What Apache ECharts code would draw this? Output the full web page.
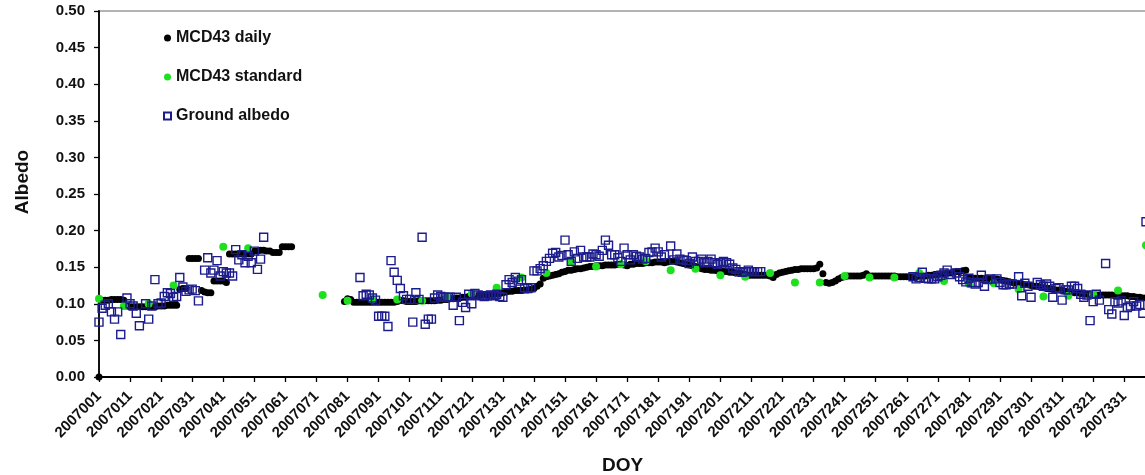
<!DOCTYPE html>
<html>
<head>
<meta charset="utf-8">
<script src="https://cdn.jsdelivr.net/npm/echarts@6/dist/echarts.min.js"></script>
<style>
  html, body { margin: 0; padding: 0; background: #ffffff; }
  #chart { width: 1145px; height: 475px; }
</style>
</head>
<body>
<div id="chart"></div>
<script>
// Day-of-year range shown on the category axis (2007001 ... 2007338)
const year = '2007';
const firstDay = 1;
const lastDay = 338;

// MCD43 daily albedo, one value per day starting at day 1 (null = no retrieval)
const dailyValues = [
  0.000, 0.105, 0.105, 0.105, 0.106, 0.106, 0.106, 0.106, 0.105, 0.097,
  0.096, 0.096, 0.096, 0.096, 0.096, 0.096, 0.096, 0.096, 0.096, 0.097,
  0.097, 0.097, 0.098, 0.098, 0.098, 0.098, 0.120, 0.121, 0.121, 0.162,
  0.162, 0.162, 0.162, 0.118, 0.116, 0.115, 0.115, 0.131, 0.131, 0.131,
  0.131, 0.129, 0.168, 0.168, 0.168, 0.168, 0.168, 0.168, 0.168, 0.168,
  0.172, 0.172, 0.173, 0.173, 0.172, 0.172, 0.170, 0.170, 0.170, 0.178,
  0.178, 0.178, 0.178, null, null, null, null, null, null, null,
  null, null, null, null, null, null, null, null, null, 0.103,
  0.107, 0.106, 0.102, 0.102, 0.102, 0.102, 0.102, 0.102, 0.102, 0.102,
  0.102, 0.102, 0.102, 0.102, 0.102, 0.102, 0.103, 0.105, 0.104, 0.103,
  0.103, 0.103, 0.103, 0.104, 0.104, 0.104, 0.104, 0.104, 0.104, 0.105,
  0.105, 0.106, 0.106, 0.107, 0.107, 0.108, 0.108, 0.109, 0.109, 0.110,
  0.110, 0.111, 0.111, 0.112, 0.112, 0.112, 0.113, 0.113, 0.114, 0.114,
  0.115, 0.116, 0.117, 0.117, 0.118, 0.118, 0.118, 0.119, 0.119, 0.120,
  0.121, 0.124, 0.127, 0.135, 0.137, 0.138, 0.139, 0.140, 0.141, 0.143,
  0.144, 0.146, 0.146, 0.147, 0.148, 0.148, 0.149, 0.150, 0.151, 0.151,
  0.152, 0.152, 0.152, 0.153, 0.153, 0.153, 0.153, 0.154, 0.154, 0.153,
  0.152, 0.154, 0.154, 0.155, 0.155, 0.155, 0.156, 0.156, 0.156, 0.157,
  0.157, 0.157, 0.156, 0.157, 0.158, 0.158, 0.157, 0.156, 0.155, 0.154,
  0.153, 0.152, 0.151, 0.150, 0.148, 0.147, 0.147, 0.146, 0.146, 0.145,
  0.145, 0.144, 0.144, 0.143, 0.143, 0.142, 0.142, 0.141, 0.140, 0.139,
  0.139, 0.139, 0.139, 0.139, 0.139, 0.139, 0.138, 0.136, 0.140, 0.142,
  0.143, 0.144, 0.145, 0.146, 0.147, 0.147, 0.148, 0.148, 0.148, 0.148,
  0.148, 0.149, 0.154, 0.141, 0.129, 0.128, 0.129, 0.131, 0.134, 0.136,
  0.137, 0.138, 0.138, 0.138, 0.138, 0.138, 0.139, 0.141, 0.138, 0.138,
  0.138, 0.138, 0.138, 0.138, 0.138, 0.138, 0.138, 0.137, 0.137, 0.137,
  0.137, 0.137, 0.137, 0.137, 0.138, 0.138, 0.138, 0.139, 0.139, 0.140,
  0.140, 0.141, 0.141, 0.142, 0.142, 0.143, 0.144, 0.144, 0.145, 0.146,
  0.135, 0.135, 0.135, 0.135, 0.135, 0.135, 0.135, 0.134, 0.134, 0.134,
  0.133, 0.132, 0.131, 0.130, 0.129, 0.128, 0.128, 0.127, 0.126, 0.126,
  0.125, 0.124, 0.124, 0.123, 0.122, 0.121, 0.121, 0.120, 0.119, 0.119,
  0.118, 0.117, 0.116, 0.116, 0.115, 0.115, 0.114, 0.114, 0.113, 0.113,
  0.113, 0.112, 0.112, 0.112, 0.112, 0.112, 0.112, 0.111, 0.111, 0.111,
  0.111, 0.111, 0.110, 0.110, 0.109, 0.109, 0.108, 0.108
];

// MCD43 standard (8-day) albedo
const standardDays = [
  1, 9, 17, 25, 41, 49, 73, 81, 89, 97,
  105, 113, 121, 129, 137, 145, 153, 161, 169, 177,
  185, 193, 201, 209, 217, 225, 233, 241, 249, 257,
  265, 273, 281, 289, 297, 305, 313, 321, 329, 338
];
const standardValues = [
  0.107, 0.097, 0.100, 0.125, 0.178, 0.176, 0.112, 0.104, 0.106, 0.106,
  0.104, 0.109, 0.114, 0.122, 0.136, 0.142, 0.157, 0.151, 0.154, 0.158,
  0.146, 0.148, 0.139, 0.137, 0.142, 0.129, 0.129, 0.138, 0.136, 0.136,
  0.142, 0.131, 0.127, 0.128, 0.120, 0.110, 0.111, 0.113, 0.118, 0.180
];

// Ground-measured albedo
const groundDays = [
  1, 2, 3, 4, 5, 6, 7, 8, 10, 11,
  12, 13, 14, 16, 17, 18, 19, 20, 21, 22,
  23, 24, 25, 26, 27, 28, 29, 30, 31, 32,
  33, 35, 36, 37, 38, 39, 40, 41, 42, 43,
  44, 45, 46, 47, 48, 49, 50, 51, 52, 53,
  54,
  85, 86, 87, 88, 89, 90, 91, 92, 93, 94,
  95, 96, 97, 98, 99, 100, 101, 102, 103, 104,
  105, 106, 107, 108, 109, 110, 111, 112, 113, 114,
  115, 116, 117, 118, 119, 120, 121, 122, 123, 124,
  125, 126, 127, 128, 129, 130, 131, 132, 133, 134,
  135, 136, 137, 138, 139, 140, 141, 142, 143, 144,
  145, 146, 147, 148, 149, 150, 151, 152, 153, 154,
  155, 156, 157, 158, 159, 160, 161, 162, 163, 164,
  165, 166, 167, 168, 169, 170, 171, 172, 173, 174,
  175, 176, 177, 178, 179, 180, 181, 182, 183, 185,
  186, 187, 188, 189, 190, 191, 192, 193, 194, 195,
  196, 197, 198, 199, 200, 201, 202, 203, 204, 205,
  206, 207, 208, 209, 210, 211, 212, 213, 214,
  263, 264, 265, 266, 267, 268, 269, 270, 271, 272,
  273, 274, 275, 277, 278, 279, 280, 281, 282, 283,
  284, 285, 286, 287, 288, 290, 291, 292, 293, 294,
  295, 297, 298, 299, 300, 301, 303, 304, 305, 306,
  307, 308, 309, 310, 311, 312, 313, 314, 315, 316,
  317, 318, 319, 320, 321, 322, 323, 325, 326, 327,
  328, 329, 330, 331, 332, 333, 334, 335, 336, 337,
  338
];
const groundValues = [
  0.075, 0.094, 0.098, 0.100, 0.089, 0.079, 0.089, 0.058, 0.108, 0.100,
  0.097, 0.087, 0.070, 0.100, 0.079, 0.097, 0.133, 0.100, 0.101, 0.110,
  0.115, 0.114, 0.109, 0.110, 0.136, 0.123, 0.117, 0.119, 0.120, 0.118,
  0.104, 0.146, 0.163, 0.142, 0.146, 0.159, 0.138, 0.144, 0.142, 0.142,
  0.138, 0.174, 0.160, 0.167, 0.156, 0.165, 0.156, 0.172, 0.147, 0.161,
  0.191,
  0.136, 0.111, 0.113, 0.112, 0.108, 0.105, 0.083, 0.083, 0.083, 0.069,
  0.159, 0.143, 0.132, 0.121, 0.111, 0.106, 0.106, 0.075, 0.115, 0.106,
  0.191, 0.072, 0.079, 0.079, 0.108, 0.112, 0.110, 0.109, 0.109, 0.109,
  0.098, 0.109, 0.077, 0.102, 0.095, 0.113, 0.100, 0.114, 0.112, 0.111,
  0.110, 0.111, 0.112, 0.111, 0.113, 0.110, 0.109, 0.126, 0.133, 0.129,
  0.136, 0.131, 0.133, 0.122, 0.121, 0.122, 0.145, 0.145, 0.148, 0.152,
  0.158, 0.162, 0.169, 0.170, 0.164, 0.166, 0.187, 0.167, 0.158, 0.171,
  0.162, 0.173, 0.164, 0.164, 0.164, 0.168, 0.167, 0.165, 0.173, 0.187,
  0.180, 0.167, 0.167, 0.163, 0.158, 0.176, 0.167, 0.160, 0.167, 0.165,
  0.164, 0.161, 0.162, 0.170, 0.171, 0.176, 0.171, 0.164, 0.167, 0.179,
  0.160, 0.168, 0.161, 0.160, 0.159, 0.155, 0.164, 0.158, 0.158, 0.161,
  0.156, 0.158, 0.161, 0.156, 0.154, 0.156, 0.158, 0.156, 0.154, 0.149,
  0.147, 0.144, 0.143, 0.144, 0.146, 0.144, 0.144, 0.144, 0.144,
  0.137, 0.134, 0.136, 0.143, 0.135, 0.134, 0.134, 0.134, 0.137, 0.139,
  0.142, 0.146, 0.140, 0.142, 0.137, 0.133, 0.130, 0.135, 0.129, 0.127,
  0.129, 0.139, 0.124, 0.133, 0.134, 0.134, 0.129, 0.126, 0.126, 0.127,
  0.127, 0.137, 0.111, 0.128, 0.124, 0.109, 0.129, 0.126, 0.124, 0.127,
  0.124, 0.109, 0.121, 0.122, 0.105, 0.119, 0.119, 0.124, 0.124, 0.121,
  0.113, 0.109, 0.112, 0.077, 0.103, 0.113, 0.105, 0.155, 0.092, 0.086,
  0.103, 0.101, 0.104, 0.084, 0.095, 0.097, 0.103, 0.097, 0.099, 0.087,
  0.212
];

// Value axis range
const yMin = 0;
const yMax = 0.5;
const yStep = 0.05;

// Category labels: 2007001, 2007002, ...
const dayCode = d => year + String(d).padStart(3, '0');
const categories = [];
for (let d = firstDay; d <= lastDay; d++) categories.push(dayCode(d));

const dailyData = [];
dailyValues.forEach((v, i) => { if (v !== null) dailyData.push([dayCode(firstDay + i), v]); });
const standardData = standardDays.map((d, i) => [dayCode(d), standardValues[i]]);
const groundData = groundDays.map((d, i) => [dayCode(d), groundValues[i]]);

const FONT = '"Liberation Sans", Arial, sans-serif';
const INK = '#111111';

const chart = echarts.init(document.getElementById('chart'), null, { renderer: 'canvas' });
chart.setOption({
  animation: false,
  backgroundColor: '#ffffff',
  grid: {
    left: 99, right: -1, top: 11, bottom: 98,
    outerBoundsMode: 'none',
    containLabel: false,
    show: true, borderColor: '#9a9a9a', borderWidth: 1.5, backgroundColor: '#ffffff'
  },
  legend: {
    orient: 'vertical',
    left: 158, top: 25,
    itemWidth: 7, itemHeight: 7,
    itemGap: 23,
    textStyle: { fontFamily: FONT, fontWeight: 'bold', fontSize: 16, color: INK, lineHeight: 16 },
    data: [
      { name: 'MCD43 daily', icon: 'circle' },
      { name: 'MCD43 standard', icon: 'circle' },
      { name: 'Ground albedo', icon: 'rect' }
    ]
  },
  xAxis: {
    type: 'category',
    data: categories,
    boundaryGap: false,
    name: 'DOY',
    nameLocation: 'middle',
    nameGap: 79,
    nameTextStyle: { fontFamily: FONT, fontWeight: 'bold', fontSize: 19, color: INK },
    axisLine: { lineStyle: { color: '#000000', width: 1.8 } },
    axisTick: { interval: 9, length: 5, lineStyle: { color: '#000000', width: 1.3 } },
    axisLabel: {
      interval: 9, rotate: 45, margin: 17,
      fontFamily: FONT, fontWeight: 'bold', fontSize: 15, color: INK
    },
    splitLine: { show: false }
  },
  yAxis: {
    type: 'value',
    min: yMin, max: yMax, interval: yStep,
    axisLine: { show: true, lineStyle: { color: '#000000', width: 1.8 } },
    axisTick: { show: true, length: 5, lineStyle: { color: '#000000', width: 1.3 } },
    axisLabel: {
      margin: 14,
      fontFamily: FONT, fontWeight: 'bold', fontSize: 15, color: INK,
      formatter: v => v.toFixed(2)
    },
    splitLine: { show: false }
  },
  graphic: [{
    type: 'text',
    x: 23, y: 182,
    rotation: Math.PI / 2,
    style: {
      text: 'Albedo',
      font: 'bold 19px "Liberation Sans", Arial, sans-serif',
      fill: INK, align: 'center', verticalAlign: 'middle'
    }
  }],
  series: [
    {
      name: 'MCD43 daily', type: 'scatter', data: dailyData,
      symbol: 'circle', symbolSize: 7,
      itemStyle: { color: '#000000', opacity: 1 },
      z: 2
    },
    {
      name: 'MCD43 standard', type: 'scatter', data: standardData,
      symbol: 'circle', symbolSize: 8,
      itemStyle: { color: '#1ee01e', opacity: 1 },
      z: 3
    },
    {
      name: 'Ground albedo', type: 'scatter', data: groundData,
      symbol: 'rect', symbolSize: 8,
      itemStyle: { color: 'rgba(255,255,255,0)', borderColor: '#1c1c8c', borderWidth: 1.4, opacity: 1 },
      z: 4
    }
  ]
});
</script>
</body>
</html>
